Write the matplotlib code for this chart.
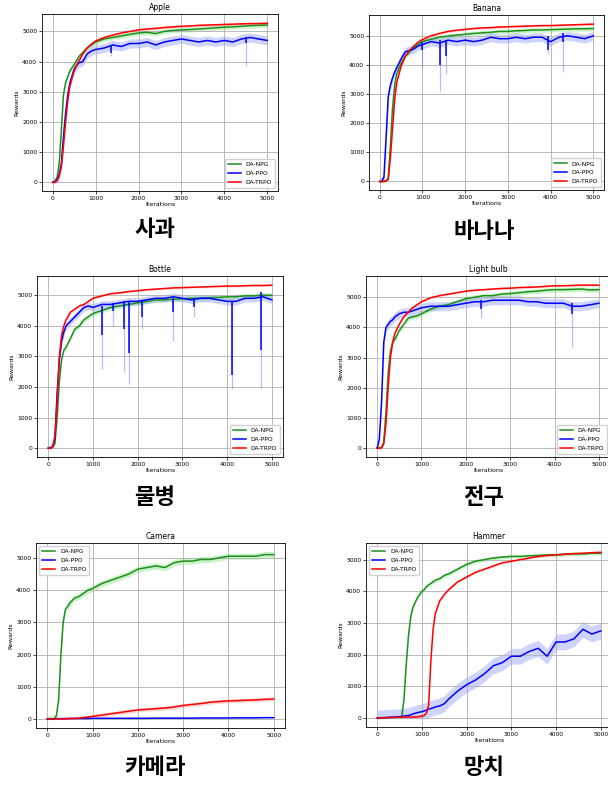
import numpy as np
import matplotlib.pyplot as plt

plt.rcParams['font.family'] = ['DejaVu Sans']

# shared iteration grid for the first five panels
iters = [0, 50, 100, 150, 200, 250, 300, 350, 400, 500, 600, 700, 800, 900, 1000,
         1200, 1400, 1600, 1800, 2000, 2200, 2400, 2600, 2800, 3000, 3200, 3400,
         3600, 3800, 4000, 4200, 4400, 4600, 4800, 5000]

apple_npg = [0, 30, 150, 600, 1700, 2900, 3300, 3500, 3700, 3900, 4150, 4300, 4450, 4550, 4650,
             4750, 4800, 4850, 4900, 4950, 4970, 4930, 5000, 5030, 5050, 5060, 5080, 5100,
             5120, 5140, 5150, 5170, 5190, 5200, 5210]
apple_ppo = [0, 10, 80, 250, 600, 1500, 2300, 2900, 3300, 3750, 3950, 4000, 4250, 4350, 4400,
             4450, 4550, 4500, 4600, 4600, 4650, 4550, 4650, 4700, 4750, 4700, 4650, 4700,
             4650, 4700, 4650, 4750, 4800, 4750, 4700]
apple_trpo = [0, 5, 50, 200, 500, 1200, 2000, 2700, 3200, 3700, 4000, 4250, 4450, 4580, 4680,
              4800, 4880, 4950, 5000, 5050, 5080, 5100, 5130, 5150, 5170, 5180, 5200, 5210,
              5220, 5230, 5240, 5250, 5260, 5260, 5270]
apple_dips = [(1350, 4550, 4300, 4200), (4500, 4800, 4600, 3850)]

banana_npg = [0, 0, 0, 20, 100, 1200, 2500, 3300, 3700, 4050, 4300, 4450, 4600, 4700, 4800,
              4880, 4950, 4990, 5020, 5050, 5080, 5100, 5120, 5150, 5150, 5170, 5180, 5200,
              5200, 5210, 5220, 5230, 5240, 5240, 5250]
banana_ppo = [0, 0, 150, 1500, 2900, 3300, 3550, 3750, 3900, 4200, 4450, 4500, 4550, 4650, 4700,
              4800, 4750, 4850, 4800, 4850, 4800, 4850, 4950, 4900, 4900, 4950, 4900, 4950,
              4950, 4800, 4950, 5000, 4950, 4900, 5000]
banana_trpo = [0, 0, 0, 20, 80, 800, 1800, 2800, 3400, 3950, 4300, 4500, 4650, 4780, 4870,
               5000, 5080, 5150, 5190, 5220, 5250, 5270, 5280, 5300, 5310, 5320, 5330, 5340,
               5350, 5350, 5360, 5370, 5380, 5390, 5400]
banana_dips = [(1000, 4800, 4500, 3900), (1400, 4850, 4000, 3100), (1550, 4850, 4300, 3700),
               (3950, 5000, 4500, 4400), (4300, 5100, 4800, 3750)]

bottle_npg = [0, 0, 30, 150, 1000, 2200, 2900, 3200, 3300, 3600, 3900, 4000, 4200, 4300, 4400,
              4500, 4600, 4650, 4700, 4750, 4800, 4850, 4850, 4870, 4880, 4900, 4900, 4920,
              4930, 4950, 4950, 4980, 4980, 5000, 5000]
bottle_ppo = [0, 0, 50, 300, 1800, 2900, 3500, 3800, 4000, 4150, 4300, 4450, 4600, 4650, 4600,
              4700, 4700, 4750, 4800, 4800, 4850, 4900, 4900, 4950, 4900, 4850, 4900, 4900,
              4850, 4800, 4800, 4900, 4900, 4950, 4850]
bottle_trpo = [0, 0, 50, 400, 1500, 3000, 3700, 4000, 4200, 4450, 4550, 4650, 4700, 4800, 4900,
               4980, 5050, 5080, 5120, 5150, 5180, 5200, 5220, 5240, 5250, 5260, 5270, 5280,
               5290, 5300, 5300, 5310, 5320, 5320, 5330]
bottle_dips = [(1200, 4650, 3700, 2600), (1450, 4750, 4500, 4000), (1700, 4800, 3900, 2500),
               (1800, 4800, 3100, 2100), (2100, 4850, 4300, 3900), (2800, 4900, 4450, 3500),
               (3250, 4900, 4600, 4300), (4100, 4800, 2400, 1950), (4750, 5100, 3200, 1950)]

bulb_npg = [0, 0, 20, 200, 1200, 2500, 3200, 3500, 3600, 3900, 4100, 4300, 4350, 4380, 4450,
            4600, 4700, 4750, 4850, 4950, 5000, 5050, 5050, 5100, 5120, 5150, 5180, 5200,
            5230, 5250, 5250, 5260, 5270, 5240, 5250]
bulb_ppo = [0, 300, 1500, 3500, 4000, 4100, 4200, 4250, 4350, 4450, 4500, 4500, 4550, 4600, 4650,
            4700, 4700, 4700, 4750, 4800, 4850, 4850, 4900, 4900, 4900, 4900, 4850, 4850,
            4800, 4800, 4800, 4700, 4700, 4750, 4800]
bulb_trpo = [0, 0, 10, 150, 800, 2000, 3000, 3500, 3800, 4100, 4350, 4500, 4650, 4750, 4850,
             4980, 5050, 5100, 5150, 5200, 5230, 5250, 5270, 5290, 5300, 5320, 5330, 5340,
             5360, 5380, 5380, 5390, 5400, 5400, 5400]
bulb_dips = [(2350, 4900, 4600, 4300), (4400, 4800, 4450, 3350)]

camera_npg = [0, 0, 0, 0, 100, 600, 2000, 3000, 3400, 3600, 3750, 3800, 3900, 4000, 4050,
              4200, 4300, 4400, 4500, 4650, 4700, 4750, 4700, 4850, 4900, 4900, 4950, 4950,
              5000, 5050, 5050, 5050, 5050, 5100, 5100]
camera_ppo = [0, 0, 5, 5, 10, 10, 10, 10, 10, 15, 15, 15, 15, 15, 20, 20, 20, 20, 20, 20, 20,
              25, 25, 25, 25, 25, 30, 30, 30, 30, 35, 35, 35, 40, 40]
camera_trpo = [0, 0, 0, 0, 0, 0, 0, 0, 5, 10, 15, 25, 40, 60, 80, 120, 160, 200, 240, 280, 300,
               320, 340, 370, 420, 450, 480, 520, 540, 560, 570, 580, 590, 610, 620]

# hammer needs a denser grid around the two late take-offs
hammer_iters = [0, 200, 400, 500, 550, 600, 650, 700, 750, 800, 900, 1000, 1050, 1100, 1150,
                1200, 1250, 1300, 1400, 1500, 1600, 1800, 2000, 2200, 2400, 2600, 2800, 3000,
                3200, 3400, 3600, 3800, 4000, 4200, 4400, 4600, 4800, 5000]
hammer_npg = [0, 10, 20, 30, 50, 600, 1700, 2600, 3200, 3500, 3800, 4000, 4050, 4150, 4200,
              4250, 4300, 4350, 4400, 4500, 4550, 4700, 4850, 4950, 5000, 5050, 5080, 5100,
              5100, 5120, 5130, 5150, 5150, 5170, 5180, 5180, 5200, 5200]
hammer_ppo = [0, 15, 30, 40, 50, 60, 70, 80, 100, 130, 170, 200, 220, 250, 280, 300, 320, 350,
              380, 450, 600, 850, 1050, 1200, 1400, 1650, 1750, 1950, 1950, 2100, 2200, 1950,
              2400, 2400, 2500, 2800, 2650, 2750]
hammer_trpo = [0, 10, 20, 25, 25, 30, 30, 30, 30, 30, 40, 60, 80, 150, 400, 1800, 2800, 3300,
               3700, 3900, 4050, 4300, 4450, 4600, 4700, 4800, 4900, 4950, 5000, 5050, 5100,
               5130, 5150, 5170, 5190, 5200, 5220, 5230]

titles = ["Apple", "Banana", "Bottle", "Light bulb", "Camera", "Hammer"]
captions = ["사과", "바나나", "물병", "전구", "카메라", "망치"]

W, H = 608, 785
# axes boxes in pixels: left, top, right, bottom
boxes = [(42, 14, 278, 191), (369, 15, 604, 190),
         (37, 276, 283, 457), (366, 276, 610, 457),
         (36, 543, 285, 728), (366, 543, 612, 727)]
cap_xy = [(155, 230), (484, 232), (155, 497), (484, 498), (155, 767), (484, 768)]

panels = [
    (iters, apple_npg, apple_ppo, apple_trpo, apple_dips, "lower right", (80, 150, 40)),
    (iters, banana_npg, banana_ppo, banana_trpo, banana_dips, "lower right", (80, 150, 40)),
    (iters, bottle_npg, bottle_ppo, bottle_trpo, bottle_dips, "lower right", (80, 120, 30)),
    (iters, bulb_npg, bulb_ppo, bulb_trpo, bulb_dips, "lower right", (80, 150, 30)),
    (iters, camera_npg, camera_ppo, camera_trpo, [], "upper left", (100, 10, 60)),
    (hammer_iters, hammer_npg, hammer_ppo, hammer_trpo, [], "upper left", (60, 250, 30)),
]

cols = {"npg": "#1f8f1f", "ppo": "#0000ff", "trpo": "#ff0000"}
band = {"npg": "#55dd55", "ppo": "#5f6fff", "trpo": "#ff6f6f"}

fig = plt.figure(figsize=(W/100, H/100), dpi=100)
for i, (it, npg, ppo, trpo, dips, loc, spread) in enumerate(panels):
    l, t, r, b = boxes[i]
    ax = fig.add_axes([l/W, 1 - b/H, (r - l)/W, (b - t)/H])
    x = np.array(it)
    for key, y, sp, lab in [("npg", npg, spread[0], "DA-NPG"),
                            ("ppo", ppo, spread[1], "DA-PPO"),
                            ("trpo", trpo, spread[2], "DA-TRPO")]:
        y = np.array(y, dtype=float)
        lo = np.maximum(y - sp, -20)   # runs never go much below zero
        ax.fill_between(x, lo, y + sp, color=band[key], alpha=0.3, lw=0)
        ax.plot(x, y, color=cols[key], lw=1.1, label=lab)
        if key == "ppo":
            for dx, top, low_mean, low_band in dips:
                ax.vlines(dx, low_band, top, color=band[key], alpha=0.45, lw=0.9)
                ax.vlines(dx, low_mean, top, color=cols[key], lw=1.1)
    ax.set_xticks(range(0, 5001, 1000))
    ax.set_yticks(range(0, 5001, 1000))
    ax.grid(True, color="#b0b0b0", lw=0.6)
    ax.tick_params(labelsize=4.3, length=2, width=0.5, pad=1.5)
    for s in ax.spines.values():
        s.set_linewidth(0.6)
    ax.set_title(titles[i], fontsize=5.5, pad=3)
    ax.set_xlabel("Iterations", fontsize=4.5, labelpad=1)
    ax.set_ylabel("Rewards", fontsize=4.5, labelpad=2)
    ax.legend(loc=loc, fontsize=4.3, handlelength=2.2, borderpad=0.5, labelspacing=0.6,
              framealpha=0.9)
    cx, cy = cap_xy[i]
    fig.text(cx/W, 1 - cy/H, captions[i], ha="center", va="center", fontsize=16,
             fontweight="bold", family=["Noto Sans CJK KR", "DejaVu Sans"])

fig.savefig("out.png", dpi=100)
